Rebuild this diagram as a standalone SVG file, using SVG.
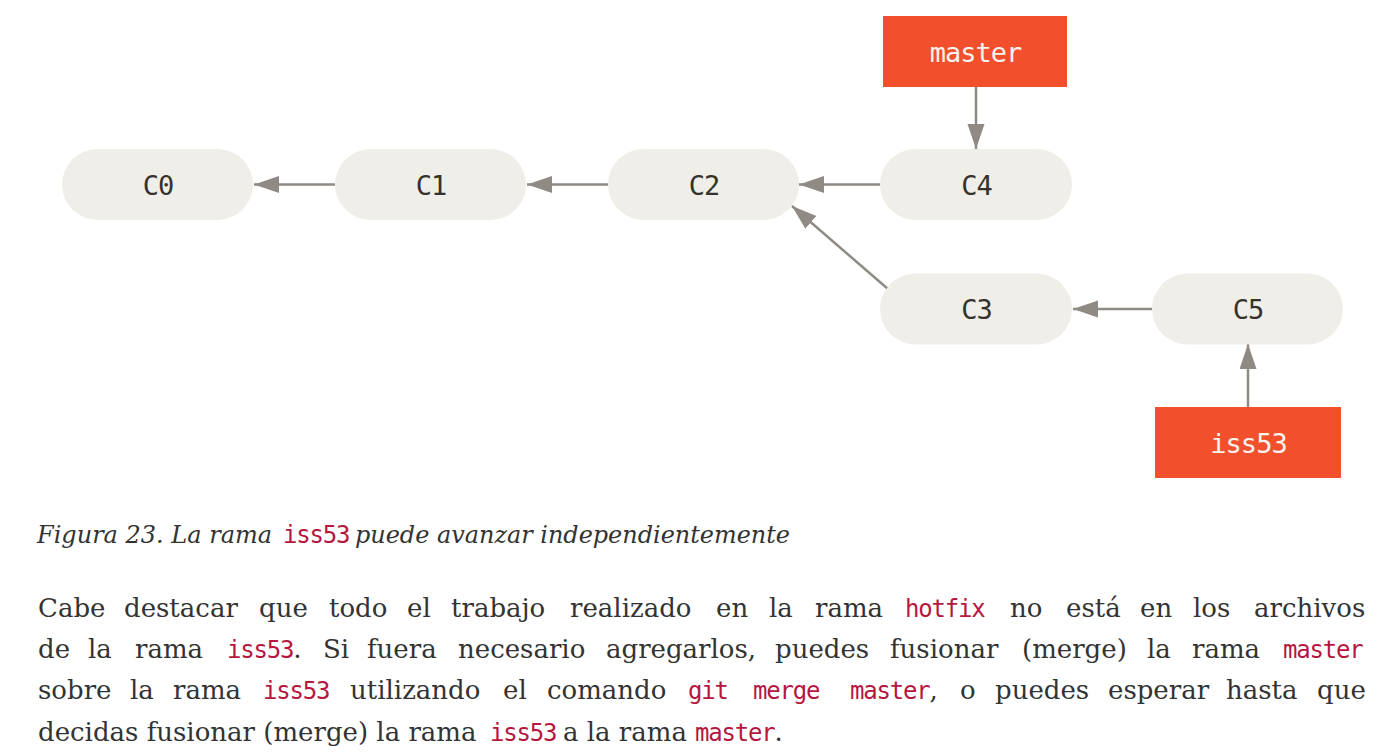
<svg xmlns="http://www.w3.org/2000/svg" width="1386" height="755" viewBox="0 0 1386 755">
<defs>
<style>
.pill{fill:#efeee8}
.ref{fill:#f2502c}
.lbl{font-family:"DejaVu Sans Mono","Liberation Mono",monospace;font-size:27px;letter-spacing:-1px;text-anchor:middle;fill:#35322e}
.rlbl{font-family:"DejaVu Sans Mono","Liberation Mono",monospace;font-size:27px;letter-spacing:-1px;text-anchor:middle;fill:#f7f3f0}
.edge{stroke:#8f8a84;stroke-width:2.5;fill:none}
.body{font-family:"DejaVu Serif","Liberation Serif",serif;font-size:26px;fill:#333333}
.cap{font-family:"DejaVu Serif","Liberation Serif",serif;font-size:25px;font-style:italic;fill:#333333}
.code{font-family:"DejaVu Sans Mono","Liberation Mono",monospace;font-size:24px;letter-spacing:-1.2px;font-style:normal;fill:#b5173f}
</style>
<marker id="ah" markerUnits="userSpaceOnUse" markerWidth="26" markerHeight="18" refX="25" refY="8.5" orient="auto">
<path d="M0,0 L25,8.5 L0,17 z" fill="#8f8a84"/>
</marker>
</defs>
<rect width="1386" height="755" fill="#ffffff"/>

<g id="connectors">
<line class="edge" x1="335" y1="184.5" x2="254" y2="184.5" marker-end="url(#ah)"/>
<line class="edge" x1="608" y1="184.5" x2="527" y2="184.5" marker-end="url(#ah)"/>
<line class="edge" x1="880" y1="184.5" x2="799" y2="184.5" marker-end="url(#ah)"/>
<line class="edge" x1="888" y1="289" x2="792" y2="206" marker-end="url(#ah)"/>
<line class="edge" x1="1152" y1="309" x2="1073" y2="309" marker-end="url(#ah)"/>
<line class="edge" x1="976" y1="87" x2="976" y2="149" marker-end="url(#ah)"/>
<line class="edge" x1="1248" y1="407" x2="1248" y2="344" marker-end="url(#ah)"/>
</g>

<g id="C0"><rect class="pill" x="62" y="149" width="191" height="71" rx="35.5"/><text class="lbl" x="158" y="194.5">C0</text></g>
<g id="C1"><rect class="pill" x="335" y="149" width="191" height="71" rx="35.5"/><text class="lbl" x="431" y="194.5">C1</text></g>
<g id="C2"><rect class="pill" x="608" y="149" width="191" height="71" rx="35.5"/><text class="lbl" x="704" y="194.5">C2</text></g>
<g id="C4"><rect class="pill" x="880" y="149" width="192" height="71" rx="35.5"/><text class="lbl" x="976.5" y="194.5">C4</text></g>
<g id="C3"><rect class="pill" x="880" y="273.5" width="192" height="71" rx="35.5"/><text class="lbl" x="976.5" y="319">C3</text></g>
<g id="C5"><rect class="pill" x="1152" y="273.5" width="191" height="71" rx="35.5"/><text class="lbl" x="1248" y="319">C5</text></g>
<g id="master"><rect class="ref" x="883" y="16" width="184" height="71"/><text class="rlbl" x="975.5" y="61.5">master</text></g>
<g id="iss53"><rect class="ref" x="1155" y="407" width="186" height="71"/><text class="rlbl" x="1248.5" y="452.5">iss53</text></g>

<g id="caption">
<text class="cap" x="37" y="543" textLength="235" lengthAdjust="spacingAndGlyphs">Figura 23. La rama</text>
<text class="code" x="283" y="543">iss53</text>
<text class="cap" x="355" y="543" textLength="435" lengthAdjust="spacingAndGlyphs">puede avanzar independientemente</text>
</g>

<g id="paragraph">
<text class="body" y="617"><tspan x="38">Cabe</tspan><tspan x="124">destacar</tspan><tspan x="259">que</tspan><tspan x="329">todo</tspan><tspan x="407">el</tspan><tspan x="451">trabajo</tspan><tspan x="570">realizado</tspan><tspan x="716">en</tspan><tspan x="769">la</tspan><tspan x="815">rama</tspan><tspan x="905" class="code">hotfix</tspan><tspan x="1010">no</tspan><tspan x="1066">está</tspan><tspan x="1140">en</tspan><tspan x="1193">los</tspan><tspan x="1254">archivos</tspan></text>
<text class="body" y="658"><tspan x="38">de</tspan><tspan x="88">la</tspan><tspan x="135">rama</tspan><tspan x="227" class="code">iss53</tspan><tspan>.</tspan><tspan x="323">Si</tspan><tspan x="367">fuera</tspan><tspan x="458">necesario</tspan><tspan x="606">agregarlos,</tspan><tspan x="775">puedes</tspan><tspan x="890">fusionar</tspan><tspan x="1022">(merge)</tspan><tspan x="1147">la</tspan><tspan x="1192">rama</tspan><tspan x="1283" class="code">master</tspan></text>
<text class="body" y="699"><tspan x="38">sobre</tspan><tspan x="130">la</tspan><tspan x="173">rama</tspan><tspan x="263" class="code">iss53</tspan><tspan x="350">utilizando</tspan><tspan x="503">el</tspan><tspan x="547">comando</tspan><tspan x="688" class="code">git</tspan><tspan x="753" class="code">merge</tspan><tspan x="850" class="code">master</tspan><tspan>,</tspan><tspan x="960">o</tspan><tspan x="995">puedes</tspan><tspan x="1108">esperar</tspan><tspan x="1226">hasta</tspan><tspan x="1317">que</tspan></text>
<text class="body" y="741"><tspan x="38">decidas fusionar (merge) la rama </tspan><tspan x="490" class="code">iss53</tspan><tspan x="563">a la rama </tspan><tspan x="695" class="code">master</tspan><tspan>.</tspan></text>
</g>
</svg>
